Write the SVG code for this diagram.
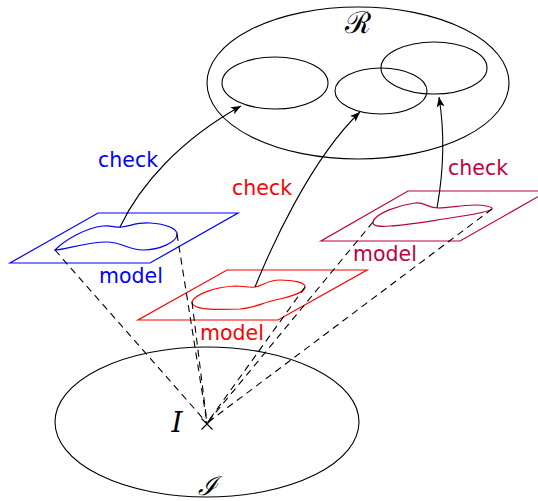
<svg xmlns="http://www.w3.org/2000/svg" width="538" height="501" viewBox="0 0 538 501">
<style>
.blk{fill:none;stroke:#000;stroke-width:1.1}
.dash{fill:none;stroke:#000;stroke-width:1.1;stroke-dasharray:7 5}
.arr{fill:none;stroke:#000;stroke-width:1.1;marker-end:url(#ah)}
.lbl{font-family:"DejaVu Sans","Liberation Sans",sans-serif;font-size:20.5px}
.math{font-family:"DejaVu Serif","Liberation Serif",serif;fill:#000}
.blue{stroke:#0000ff;fill:none;stroke-width:1.2}
.red{stroke:#ff0000;fill:none;stroke-width:1.2}
.pur{stroke:#bf0040;fill:none;stroke-width:1.2}
</style>
<defs>
<marker id="ah" markerUnits="userSpaceOnUse" markerWidth="11" markerHeight="9" refX="10" refY="4.5" orient="auto">
<path d="M0,0.5 L10,4.5 L0,8.5 L2.5,4.5 Z" fill="#000"/>
</marker>
</defs>
<g id="R">
<ellipse class="blk" cx="358" cy="83" rx="151" ry="76"/>
<text class="math" x="358" y="33" font-size="30" text-anchor="middle">ℛ</text>
</g>
<g id="r1"><ellipse class="blk" cx="275" cy="83" rx="53" ry="26"/></g>
<g id="r2"><ellipse class="blk" cx="381" cy="91" rx="46" ry="23"/></g>
<g id="r3"><ellipse class="blk" cx="434" cy="68" rx="53" ry="26"/></g>
<g id="Iset">
<ellipse class="blk" cx="207" cy="422" rx="152" ry="75"/>
<text class="math" x="207" y="495" font-size="26" font-style="italic" text-anchor="middle">ℐ</text>
</g>
<g id="Ipoint">
<path class="blk" d="M201.5,418.5 L212.5,429.5 M212.5,418.5 L201.5,429.5"/>
<text class="math" x="177" y="432" font-size="28" font-style="italic" text-anchor="middle">I</text>
</g>
<g id="blueModel">
<path class="blue" d="M98,213 L238,213 L150,263 L10,263 Z"/>
<path class="blue" d="M55,250 C65,240 85,228 103,226 C112,225 115,228 122,227 C130,226 138,222 150,223 C165,224 178,228 177,235 C176,242 160,250 143,250 C128,250 122,242 107,242 C85,242 65,250 55,250 Z"/>
<text class="lbl" x="99" y="283" fill="#0000ff">model</text>
</g>
<g id="redModel">
<path class="red" d="M227,270 L367,270 L278,320 L138,320 Z"/>
<path class="red" d="M192,302 C195,294 215,287 235,286 C245,286 248,288 255,287 C262,286 268,280 280,280 C292,280 305,282 305,287 C305,292 290,297 275,300 C262,303 255,308 240,309 C215,310 192,310 192,302 Z"/>
<text class="lbl" x="200" y="340" fill="#ff0000">model</text>
</g>
<g id="purpleModel">
<path class="pur" d="M408,191 L548,191 L460,241 L321,241 Z"/>
<path class="pur" d="M373,222 C375,213 400,205 415,203 C425,202 428,208 438,208 C450,208 460,205 475,205 C485,205 493,207 492,209 C490,212 470,215 450,218 C430,221 410,225 390,226 C380,227 372,226 373,222 Z"/>
<text class="lbl" x="353" y="261" fill="#bf0040">model</text>
</g>
<g id="connectors">
<path class="dash" d="M55,250 L207,423 M177,234 L207,423"/>
<path class="dash" d="M192,302 L207,423 M305,287 L207,423"/>
<path class="dash" d="M373,222 L207,423 M492,209 L207,423"/>
<path class="arr" d="M120,227 C140,185 180,140 241,106"/>
<path class="arr" d="M255,287 C270,250 310,160 360,112"/>
<path class="arr" d="M437,208 C442,180 446,140 439,97"/>
<text class="lbl" x="98" y="167" fill="#0000ff">check</text>
<text class="lbl" x="232" y="195" fill="#ff0000">check</text>
<text class="lbl" x="448" y="175" fill="#bf0040">check</text>
</g>
</svg>
